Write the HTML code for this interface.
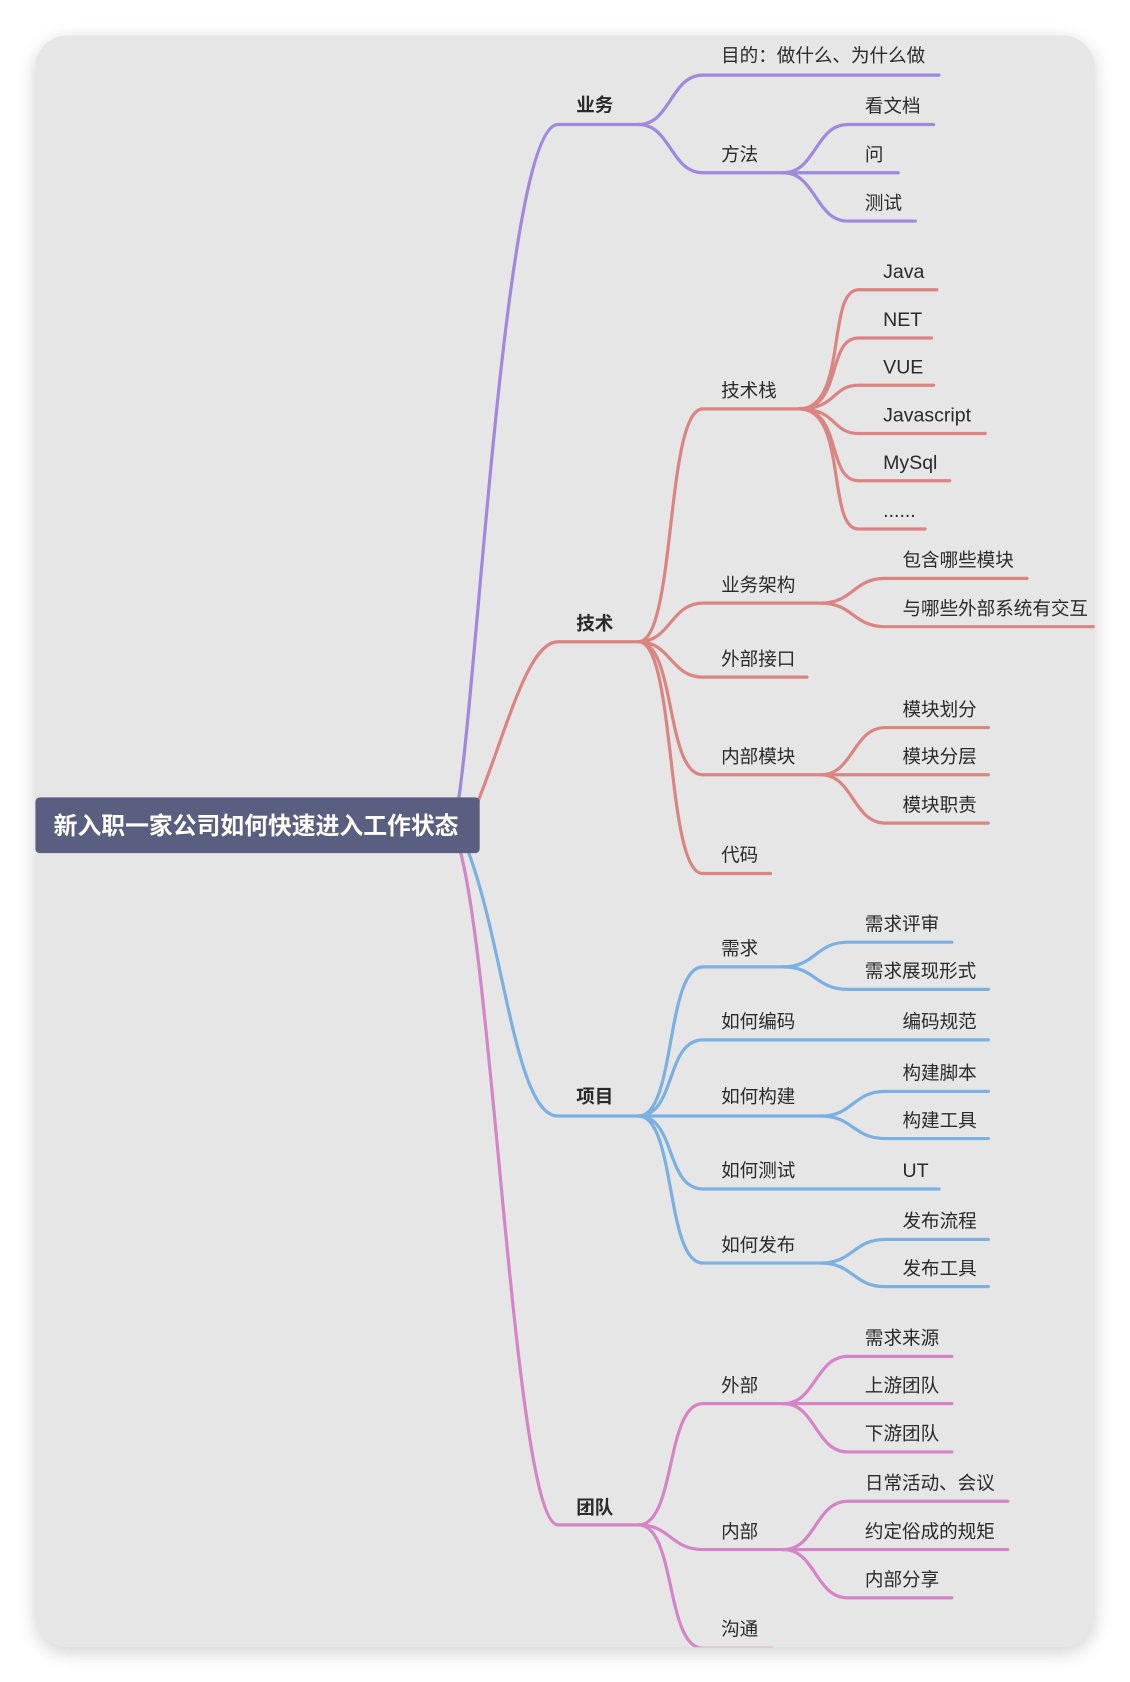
<!DOCTYPE html>
<html><head><meta charset="utf-8"><style>
html,body{margin:0;padding:0;background:#fff;width:1130px;height:1682px;overflow:hidden}
svg{display:block}
text{font-family:"Liberation Sans","Noto Sans CJK SC",sans-serif;font-size:17.3px;fill:#2a2a2a}
.b{font-weight:bold}
.l{font-size:18.2px}
</style></head><body>
<svg width="1130" height="1682" viewBox="0 0 1053 1567.4" xmlns="http://www.w3.org/2000/svg">
<defs>
<filter id="sh" x="-10%" y="-10%" width="120%" height="120%"><feGaussianBlur stdDeviation="9"/></filter>
<clipPath id="cp"><rect x="33" y="33" width="987" height="1502" rx="30"/></clipPath>
</defs>
<rect x="33" y="38" width="987" height="1502" rx="30" fill="#000" opacity="0.18" filter="url(#sh)"/>
<rect x="33" y="33" width="987" height="1502" rx="30" fill="#e6e6e6"/>
<g clip-path="url(#cp)" fill="none" stroke-width="3" stroke-linecap="round">
<g stroke="#a088dc">
<path d="M425,760 C445,650 470,116 520,116 L595,116"/>
<path d="M595,116 C625,116 625,70 655,70 L875,70"/>
<path d="M595,116 C625,116 625,161 655,161 L730,161"/>
<path d="M730,161 C760,161 760,116 790,116 L870,116"/>
<path d="M730,161 L837,161"/>
<path d="M730,161 C760,161 760,206 790,206 L853,206"/>
</g>
<g stroke="#db8583">
<path d="M440,760 C470,690 490,598 520,598 L595,598"/>
<path d="M595,598 C630,598 620,381 655,381 L745,381"/>
<path d="M745,381 C790,381 770,270 800,270 L873,270"/>
<path d="M745,381 C785,381 770,315 800,315 L868,315"/>
<path d="M745,381 C780,381 775,359 800,359 L870,359"/>
<path d="M745,381 C780,381 775,404 800,404 L918,404"/>
<path d="M745,381 C785,381 770,448 800,448 L885,448"/>
<path d="M745,381 C790,381 770,493 800,493 L862,493"/>
<path d="M595,598 C625,598 625,562 655,562 L765,562"/>
<path d="M765,562 C795,562 795,539 825,539 L957,539"/>
<path d="M765,562 C795,562 795,584 825,584 L1020,584"/>
<path d="M595,598 C625,598 625,631 655,631 L752,631"/>
<path d="M595,598 C630,598 620,722 655,722 L765,722"/>
<path d="M765,722 C795,722 795,678 825,678 L921,678"/>
<path d="M765,722 L921,722"/>
<path d="M765,722 C795,722 795,767 825,767 L921,767"/>
<path d="M595,598 C630,598 620,814 655,814 L718,814"/>
</g>
<g stroke="#7bb0e2">
<path d="M435,790 C470,880 480,1040 520,1040 L595,1040"/>
<path d="M595,1040 C630,1040 620,901 655,901 L730,901"/>
<path d="M730,901 C760,901 760,878 790,878 L887,878"/>
<path d="M730,901 C760,901 760,922 790,922 L921,922"/>
<path d="M595,1040 C630,1040 620,969 655,969 L921,969"/>
<path d="M595,1040 L765,1040"/>
<path d="M765,1040 C795,1040 795,1017 825,1017 L921,1017"/>
<path d="M765,1040 C795,1040 795,1061 825,1061 L921,1061"/>
<path d="M595,1040 C630,1040 620,1108 655,1108 L875,1108"/>
<path d="M595,1040 C630,1040 620,1177 655,1177 L765,1177"/>
<path d="M765,1177 C795,1177 795,1155 825,1155 L921,1155"/>
<path d="M765,1177 C795,1177 795,1199 825,1199 L921,1199"/>
</g>
<g stroke="#d485c8">
<path d="M428,790 C460,900 480,1421 520,1421 L595,1421"/>
<path d="M595,1421 C630,1421 620,1308 655,1308 L730,1308"/>
<path d="M730,1308 C760,1308 760,1264 790,1264 L887,1264"/>
<path d="M730,1308 L887,1308"/>
<path d="M730,1308 C760,1308 760,1353 790,1353 L887,1353"/>
<path d="M595,1421 C625,1421 625,1444 655,1444 L730,1444"/>
<path d="M730,1444 C760,1444 760,1399 790,1399 L939,1399"/>
<path d="M730,1444 L939,1444"/>
<path d="M730,1444 C760,1444 760,1489 790,1489 L887,1489"/>
<path d="M595,1421 C630,1421 620,1536 655,1536 L720,1536"/>
</g>
</g>
<rect x="33" y="743" width="414" height="52" rx="4" fill="#5a5e80"/>
<text x="50" y="777" style="font-size:22.2px;fill:#fff;font-weight:bold">新入职一家公司如何快速进入工作状态</text>
<g>
<text class="b" x="537" y="104">业务</text>
<text x="672" y="58">目的：做什么、为什么做</text>
<text x="672" y="150">方法</text>
<text x="806" y="105">看文档</text>
<text x="806" y="150">问</text>
<text x="806" y="195">测试</text>

<text class="b" x="537" y="587">技术</text>
<text x="672" y="370">技术栈</text>
<text class="l" x="823" y="259">Java</text>
<text class="l" x="823" y="304">NET</text>
<text class="l" x="823" y="348">VUE</text>
<text class="l" x="823" y="393">Javascript</text>
<text class="l" x="823" y="437">MySql</text>
<text class="l" x="823" y="482">......</text>
<text x="672" y="551">业务架构</text>
<text x="841" y="528">包含哪些模块</text>
<text x="841" y="573">与哪些外部系统有交互</text>
<text x="672" y="620">外部接口</text>
<text x="672" y="711">内部模块</text>
<text x="841" y="667">模块划分</text>
<text x="841" y="711">模块分层</text>
<text x="841" y="756">模块职责</text>
<text x="672" y="803">代码</text>

<text class="b" x="537" y="1028">项目</text>
<text x="672" y="890">需求</text>
<text x="806" y="867">需求评审</text>
<text x="806" y="911">需求展现形式</text>
<text x="672" y="958">如何编码</text>
<text x="841" y="958">编码规范</text>
<text x="672" y="1028">如何构建</text>
<text x="841" y="1006">构建脚本</text>
<text x="841" y="1050">构建工具</text>
<text x="672" y="1097">如何测试</text>
<text class="l" x="841" y="1097">UT</text>
<text x="672" y="1166">如何发布</text>
<text x="841" y="1144">发布流程</text>
<text x="841" y="1188">发布工具</text>

<text class="b" x="537" y="1411">团队</text>
<text x="672" y="1297">外部</text>
<text x="806" y="1253">需求来源</text>
<text x="806" y="1297">上游团队</text>
<text x="806" y="1342">下游团队</text>
<text x="672" y="1433">内部</text>
<text x="806" y="1388">日常活动、会议</text>
<text x="806" y="1433">约定俗成的规矩</text>
<text x="806" y="1478">内部分享</text>
<text x="672" y="1524">沟通</text>
</g>
</svg>
</body></html>
